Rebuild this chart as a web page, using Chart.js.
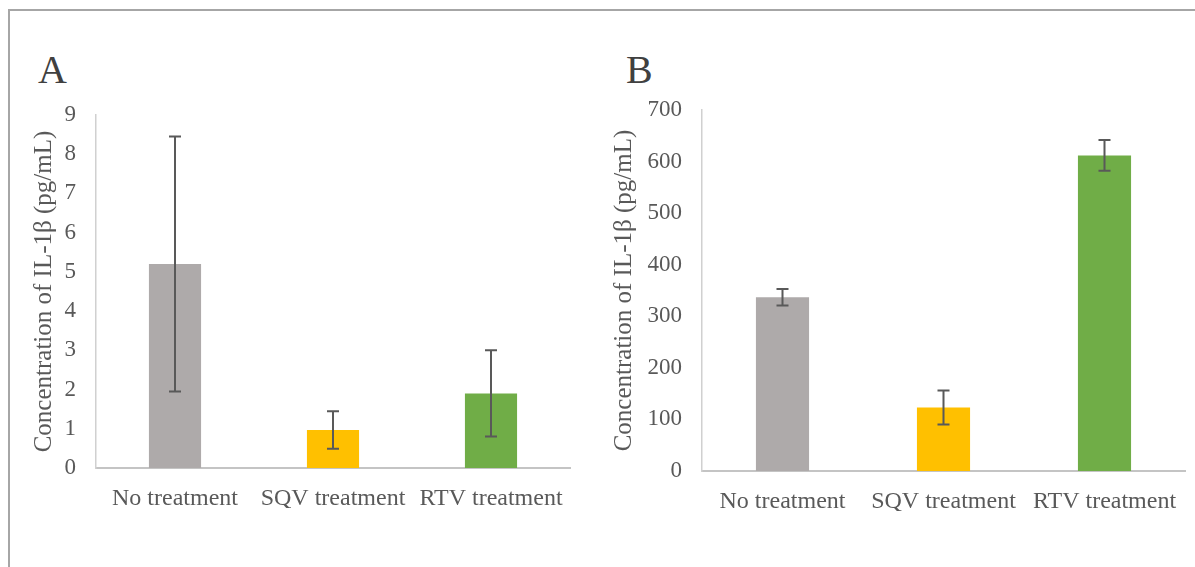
<!DOCTYPE html>
<html>
<head>
<meta charset="utf-8">
<script src="https://cdn.jsdelivr.net/npm/chart.js@4.4.0/dist/chart.umd.min.js"></script>
<style>
  html, body { margin: 0; padding: 0; background: #fff; }
  body { width: 1195px; height: 567px; position: relative; overflow: hidden; }
  .frame { position: absolute; left: 8px; top: 9px; width: 1300px; height: 700px;
           border-left: 2px solid #a6a6a6; border-top: 2px solid #a6a6a6; }
  .panel { position: absolute; font-family: "Liberation Serif", serif; font-size: 40px;
           line-height: 40px; color: #404040; }
  canvas { position: absolute; top: 0; }
</style>
</head>
<body>
<div class="frame"></div>
<div class="panel" style="left:38px; top:50px;">A</div>
<div class="panel" style="left:626px; top:50px;">B</div>
<canvas id="chartA" width="590" height="567" style="left:0;"></canvas>
<canvas id="chartB" width="605" height="567" style="left:590px;"></canvas>
<script>
document.addEventListener('DOMContentLoaded', () => {

    // --- Data ---
    const categories = ['No treatment', 'SQV treatment', 'RTV treatment'];
    const barColors = ['#aeaaaa', '#ffc000', '#70ad47'];
    const valuesA = [5.2, 0.97, 1.9];
    const errorsA = [3.25, 0.48, 1.1];
    const valuesB = [337, 123, 612];
    const errorsB = [16, 33, 30];
    const yTitle = 'Concentration of IL-1β (pg/mL)';

    const textColor = '#595959';
    const fontFamily = '"Liberation Serif", serif';

    // error bars drawn from the dataset's own errors array
    const errorBars = {
        id: 'errorBars',
        afterDatasetsDraw(chart) {
            const ctx = chart.ctx;
            const yScale = chart.scales.y;
            chart.data.datasets.forEach((ds, di) => {
                const meta = chart.getDatasetMeta(di);
                meta.data.forEach((bar, i) => {
                    const v = ds.data[i], e = ds.errors[i];
                    const top = yScale.getPixelForValue(v + e);
                    const bottom = yScale.getPixelForValue(v - e);
                    ctx.save();
                    ctx.strokeStyle = '#595959';
                    ctx.lineWidth = 2;
                    ctx.beginPath();
                    ctx.moveTo(bar.x, top);
                    ctx.lineTo(bar.x, bottom);
                    ctx.moveTo(bar.x - 6, top);
                    ctx.lineTo(bar.x + 6, top);
                    ctx.moveTo(bar.x - 6, bottom);
                    ctx.lineTo(bar.x + 6, bottom);
                    ctx.stroke();
                    ctx.restore();
                });
            });
        }
    };

    const makeChart = (canvasId, values, errors, yMax, yStep, axisWidth, titlePad, padding) => {
        return new Chart(document.getElementById(canvasId).getContext('2d'), {
            type: 'bar',
            data: {
                labels: categories,
                datasets: [{
                    data: values,
                    errors: errors,
                    backgroundColor: barColors,
                    borderWidth: 0,
                    barPercentage: 0.33,
                    categoryPercentage: 1
                }]
            },
            options: {
                responsive: false,
                animation: false,
                layout: { padding: padding },
                plugins: {
                    legend: { display: false },
                    tooltip: { enabled: false }
                },
                scales: {
                    x: {
                        grid: { display: false, drawTicks: false },
                        border: { color: '#c4c4c4', width: 2 },
                        ticks: { color: textColor, padding: 16, font: { family: fontFamily, size: 24 } },
                        afterFit: s => { s.height = 40; }
                    },
                    y: {
                        min: 0,
                        max: yMax,
                        grid: { display: false, drawTicks: false },
                        border: { color: '#d0d0d0', width: 1.5 },
                        ticks: { stepSize: yStep, color: textColor, padding: 20, font: { family: fontFamily, size: 23 } },
                        title: {
                            display: true,
                            text: yTitle,
                            color: textColor,
                            padding: { top: titlePad, bottom: 0 },
                            font: { family: fontFamily, size: 25 }
                        },
                        afterFit: s => { s.width = axisWidth; }
                    }
                }
            },
            plugins: [errorBars]
        });
    };

    // --- Panel A ---
    makeChart('chartA', valuesA, errorsA, 9, 1, 96, 29,
        { top: 115, right: 20, bottom: 567 - 468 - 40, left: 0 });

    // --- Panel B ---
    makeChart('chartB', valuesB, errorsB, 700, 100, 112, 19,
        { top: 110, right: 10, bottom: 567 - 471 - 40, left: 0 });
});
</script>
</body>
</html>
